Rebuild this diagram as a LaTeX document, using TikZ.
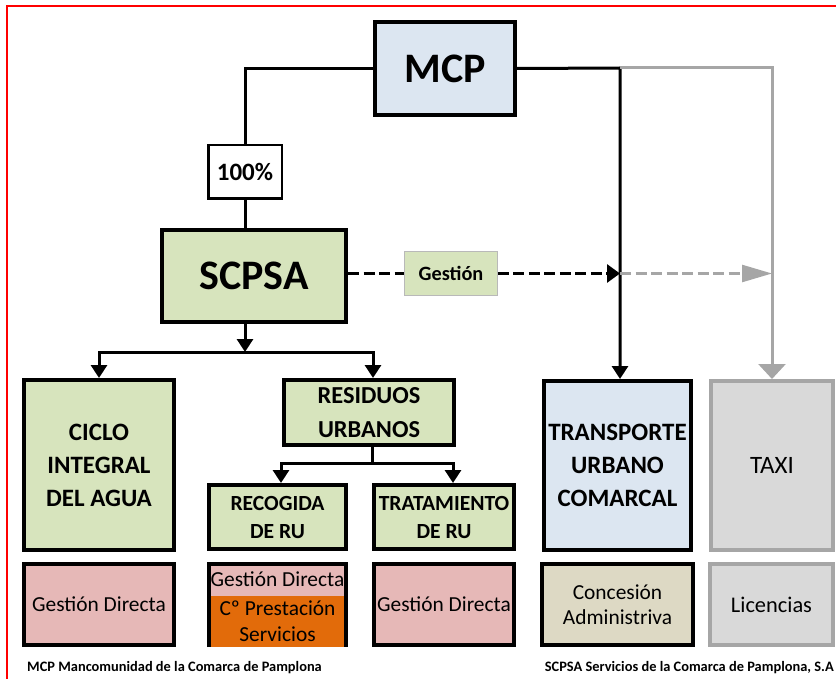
\documentclass[tikz,border=0pt]{standalone}
\usepackage{fontspec}
\setmainfont{Carlito}
\usetikzlibrary{arrows.meta}
\definecolor{mcpblue}{HTML}{DCE6F1}
\definecolor{greenA}{HTML}{D7E4BD}
\definecolor{pinkA}{HTML}{E6B8B7}
\definecolor{orangeA}{HTML}{E26B0A}
\definecolor{tanA}{HTML}{DDD9C4}
\definecolor{grayA}{HTML}{D9D9D9}
\definecolor{gline}{HTML}{A6A6A6}
\begin{document}
\begin{tikzpicture}[x=1pt,y=-1pt,
  box/.style={draw=black, line width=4pt, align=center, inner sep=0pt},
  bigf/.style={font=\bfseries\fontsize{42}{50}\selectfont},
  midf/.style={font=\bfseries\fontsize{25}{33}\selectfont},
  regf/.style={font=\fontsize{21.4}{26}\selectfont},
  conn/.style={line width=3pt},
  dashpat/.style={dash pattern=on 11pt off 4.5pt},
  blackarrow/.style={-{Triangle[length=13pt,width=16pt]}},
  grayarrow/.style={-{Triangle[length=15pt,width=27pt]}}
]
\useasboundingbox (0,0) rectangle (836,679);
\draw[red, line width=2.5pt] (7,6) rectangle (860,700);

% top
\node[box, fill=mcpblue, minimum width=140pt, minimum height=93pt, bigf] (mcp) at (445,68.5) {MCP};
\node[box, line width=2.5pt, fill=white, minimum width=73.5pt, minimum height=53.5pt,
      font=\bfseries\fontsize{25}{30}\selectfont] (p100) at (245,172) {100\%};
\node[box, fill=greenA, minimum width=184pt, minimum height=92pt, bigf] (sc) at (254,276) {SCPSA};
\node[draw=gray!55, line width=0.8pt, fill=greenA, minimum width=93pt, minimum height=44pt, inner sep=0pt,
      font=\bfseries\fontsize{20.3}{24}\selectfont] (gest) at (451,273.5) {Gestión};

% second row
\node[box, fill=greenA, minimum width=150pt, minimum height=170pt, midf] (ciclo) at (99,465) {CICLO\\INTEGRAL\\DEL AGUA};
\node[box, fill=greenA, minimum width=170pt, minimum height=65pt, font=\bfseries\fontsize{24.4}{34}\selectfont] (res) at (369,412.5) {RESIDUOS\\URBANOS};
\node[box, fill=greenA, minimum width=137pt, minimum height=64pt, font=\bfseries\fontsize{21.6}{28}\selectfont] (rec) at (277.5,517) {RECOGIDA\\DE RU};
\node[box, fill=greenA, minimum width=140pt, minimum height=64pt, font=\bfseries\fontsize{21.6}{28}\selectfont] (trat) at (444,517) {TRATAMIENTO\\DE RU};
\node[box, fill=mcpblue, minimum width=147pt, minimum height=169pt, midf] (tr) at (617.5,465.5) {TRANSPORTE\\URBANO\\COMARCAL};
\node[box, draw=gline, fill=grayA, minimum width=122pt, minimum height=169pt, font=\fontsize{25}{30}\selectfont] (taxi) at (772,465.5) {TAXI};

% bottom row
\node[box, fill=pinkA, minimum width=150pt, minimum height=81pt, regf] (gd1) at (99,604.5) {Gestión Directa};
\node[fill=pinkA, minimum width=141pt, minimum height=34pt, inner sep=0pt, regf] (rpink) at (277.5,579) {Gestión Directa};
\node[fill=orangeA, minimum width=141pt, minimum height=51pt, inner sep=0pt, align=center, regf] (rorange) at (277.5,621.5) {Cº Prestación\\Servicios};
\draw[line width=4pt] ([xshift=2pt]rorange.south west) |- ([yshift=-2pt]rpink.north) -| ([xshift=-2pt]rorange.south east);
\node[box, fill=pinkA, minimum width=140pt, minimum height=81pt, regf] (gd3) at (444,604.5) {Gestión Directa};
\node[box, fill=tanA, minimum width=151pt, minimum height=81pt, font=\fontsize{21.4}{25}\selectfont] (conc) at (617.5,604.5) {Concesión\\Administriva};
\node[box, draw=gline, fill=grayA, minimum width=123pt, minimum height=81pt, font=\fontsize{22.4}{26}\selectfont] (lic) at (771.5,604.5) {Licencias};

% footers
\node[anchor=base west, inner sep=0pt, font=\bfseries\fontsize{14.4}{16}\selectfont] (f1) at (27,671) {MCP Mancomunidad de la Comarca de Pamplona};
\node[anchor=base east, inner sep=0pt, font=\bfseries\fontsize{14.4}{16}\selectfont] (f2) at (834,671) {SCPSA Servicios de la Comarca de Pamplona, S.A};

% connectors
\coordinate (j1) at (620,68);
\coordinate (bus) at (245,352);
\coordinate (rbus) at (372,463);
\draw[conn] (mcp.west) -| (p100.north);
\draw[conn] (p100.south) -- (p100.south |- sc.north);
\draw[conn, blackarrow] (mcp.east) -- (j1) -- (j1 |- tr.north);
\draw[conn, gline, grayarrow] (j1) -| (taxi.north);
\draw[conn, dashpat] (sc.east |- gest.west) -- (gest.west);
\draw[conn, dashpat, -{Triangle[length=13pt,width=18pt]}] (gest.east) -- (gest.east -| j1);
\draw[line width=2.5pt, gline, dashpat, -{Triangle[length=30pt,width=17pt]}] (gest.east -| j1) -- (gest.east -| taxi.north);
\draw[conn, blackarrow] (sc.south -| p100) -- (bus);
\draw[conn, blackarrow] (bus) -| (ciclo.north);
\draw[conn, blackarrow] (bus) -| ([xshift=4pt]res.north);
\draw[conn] (res.south -| rbus) -- (rbus);
\draw[conn, blackarrow] (rbus) -| ([xshift=3.5pt]rec.north);
\draw[conn, blackarrow] (rbus) -| ([xshift=9pt]trat.north);
\end{tikzpicture}
\end{document}
